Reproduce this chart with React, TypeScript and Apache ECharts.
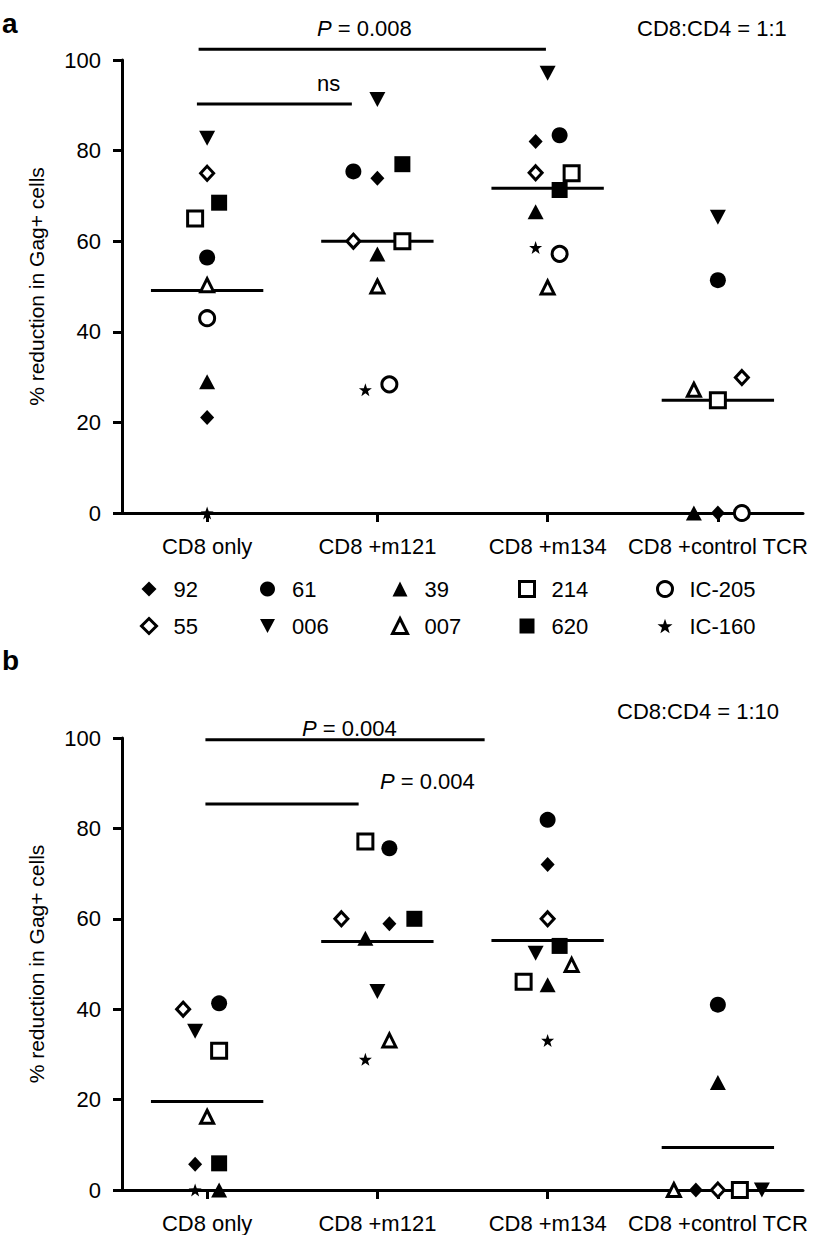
import React, { useEffect, useRef } from 'react';
import * as echarts from 'echarts';

const CATEGORIES = ['CD8 only', 'CD8 +m121', 'CD8 +m134', 'CD8 +control TCR'];
const DONORS = ['92', '55', '61', '006', '39', '007', '214', '620', 'IC-205', 'IC-160'];
const Y_TICKS = [0, 20, 40, 60, 80, 100];

// Panel a (CD8:CD4 = 1:1): [CD8 only, +m121, +m134, +control TCR]
const A_92 = [21.1, 73.9, 82.0, 0];
const A_55 = [75.0, 60.0, 75.1, 29.9];
const A_61 = [56.4, 75.4, 83.4, 51.4];
const A_006 = [82.7, 91.3, 97.1, 65.3];
const A_39 = [29.0, 57.2, 66.5, 0];
const A_007 = [50.3, 50.0, 49.8, 27.2];
const A_214 = [65.0, 60.0, 75.0, 24.9];
const A_620 = [68.5, 77.0, 71.3, null];
const A_IC205 = [43.0, 28.4, 57.2, 0];
const A_IC160 = [0, 27.2, 58.6, null];
const A_MEDIANS = [49.1, 60.0, 71.7, 24.9];

// Panel b (CD8:CD4 = 1:10)
const B_92 = [5.7, 58.9, 72.0, 0];
const B_55 = [40.0, 60.0, 60.0, 0];
const B_61 = [41.3, 75.6, 81.9, 41.0];
const B_006 = [35.1, 43.9, 52.4, 0];
const B_39 = [0, 55.7, 45.4, 23.8];
const B_007 = [16.2, 33.1, 49.8, 0];
const B_214 = [30.8, 77.1, 46.1, 0];
const B_620 = [5.9, 60.0, 54.0, null];
const B_IC205 = [null, null, null, null];
const B_IC160 = [0, 28.9, 33.1, null];
const B_MEDIANS = [19.6, 55.0, 55.2, 9.4];

// comparison bars: category span and level
const A_COMPARISONS = [
  { from: -0.05, to: 1.99, y: 102.4, label: 'P = 0.008' },
  { from: -0.06, to: 0.85, y: 90.3, label: 'ns' },
];
const B_COMPARISONS = [
  { from: -0.01, to: 1.63, y: 99.6, label: 'P = 0.004' },
  { from: -0.01, to: 0.89, y: 85.4, label: 'P = 0.004' },
];

const A_VALUES: Record<string, (number | null)[]> = {
  '92': A_92, '55': A_55, '61': A_61, '006': A_006, '39': A_39,
  '007': A_007, '214': A_214, '620': A_620, 'IC-205': A_IC205, 'IC-160': A_IC160,
};
const B_VALUES: Record<string, (number | null)[]> = {
  '92': B_92, '55': B_55, '61': B_61, '006': B_006, '39': B_39,
  '007': B_007, '214': B_214, '620': B_620, 'IC-205': B_IC205, 'IC-160': B_IC160,
};

// horizontal jitter (px) of each marker, per category
const A_JITTER: Record<string, number[]> = {
  '92': [0, 0, -12, 0], '55': [0, -24, -12, 24], '61': [0, -24, 12, 0], '006': [0, 0, 0, 0],
  '39': [0, 0, -12, -24], '007': [0, 0, 0, -24], '214': [-12, 25, 24, 0], '620': [12, 25, 12, 0],
  'IC-205': [0, 12, 12, 24], 'IC-160': [0, -12, -12, 0],
};
const B_JITTER: Record<string, number[]> = {
  '92': [-12, 12, 0, -22], '55': [-24, -36, 0, 0], '61': [12, 12, 0, 0], '006': [-12, 0, -12, 44],
  '39': [12, -12, 0, 0], '007': [0, 12, 24, -44], '214': [12, -12, -24, 22], '620': [12, 37, 12, 0],
  'IC-205': [0, 0, 0, 0], 'IC-160': [-12, -12, 0, 0],
};

const FONT = '"Liberation Sans", Arial, Helvetica, sans-serif';
const STAR = 'path://M0,-10L2.35,-3.24L9.51,-3.09L3.8,1.24L5.88,8.09L0,4L-5.88,8.09L-3.8,1.24L-9.51,-3.09L-2.35,-3.24Z';
const DOWN_TRI = 'path://M0,0L10,0L5,9.4Z';
const FILLED = { color: '#000', borderColor: '#000', borderWidth: 0, opacity: 1 };
const OPEN = { color: '#fff', borderColor: '#000', borderWidth: 3, opacity: 1 };

const MARKERS: Record<string, { symbol: string; size: number | number[]; style: any }> = {
  '92': { symbol: 'diamond', size: [14, 15], style: FILLED },
  '55': { symbol: 'diamond', size: [13, 14], style: OPEN },
  '61': { symbol: 'circle', size: 16, style: FILLED },
  '006': { symbol: DOWN_TRI, size: [16, 15], style: FILLED },
  '39': { symbol: 'triangle', size: [16, 15], style: FILLED },
  '007': { symbol: 'triangle', size: [13, 13], style: OPEN },
  '214': { symbol: 'rect', size: 15, style: OPEN },
  '620': { symbol: 'rect', size: 16, style: FILLED },
  'IC-205': { symbol: 'circle', size: 15, style: OPEN },
  'IC-160': { symbol: STAR, size: 13, style: FILLED },
};

const LEGEND_COLUMNS = [['92', '55'], ['61', '006'], ['39', '007'], ['214', '620'], ['IC-205', 'IC-160']];
const LEGEND_LEFT = [140, 260, 391, 518, 656];

function panel(idx: number, values: Record<string, (number | null)[]>, jitter: Record<string, number[]>,
  medians: number[], comps: { from: number; to: number; y: number }[]) {
  const catAxis = idx * 2;
  const valAxis = idx * 2 + 1;
  const series: any[] = [];
  medians.forEach((m, i) => {
    series.push({
      type: 'line', xAxisIndex: valAxis, yAxisIndex: idx, silent: true, clip: false,
      symbol: 'none', lineStyle: { color: '#000', width: 3 },
      data: [[i - 0.33, m], [i + 0.33, m]], z: 2,
    });
  });
  comps.forEach((c) => {
    series.push({
      type: 'line', xAxisIndex: valAxis, yAxisIndex: idx, silent: true, clip: false,
      symbol: 'none', lineStyle: { color: '#000', width: 3 },
      data: [[c.from, c.y], [c.to, c.y]], z: 2,
    });
  });
  DONORS.forEach((d) => {
    const mk = MARKERS[d];
    const data: any[] = [];
    values[d].forEach((v, i) => {
      if (v === null) return;
      data.push({ value: [i, v], symbolOffset: [jitter[d][i], 0] });
    });
    series.push({
      type: 'scatter', name: d, xAxisIndex: catAxis, yAxisIndex: idx, clip: false,
      symbol: mk.symbol, symbolSize: mk.size, itemStyle: mk.style, data, z: 3,
      emphasis: { disabled: true },
    });
  });
  return series;
}

export default function App() {
  const ref = useRef<HTMLDivElement>(null);
  useEffect(() => {
    if (!ref.current) return;
    const chart = echarts.init(ref.current, undefined, { renderer: 'svg' });
    const grids = [
      { left: 122, top: 60, width: 681, height: 453 },
      { left: 122, top: 738, width: 681, height: 452 },
    ];
    const xAxes: any[] = [];
    const yAxes: any[] = [];
    grids.forEach((_, g) => {
      xAxes.push({
        type: 'category', gridIndex: g, data: CATEGORIES, boundaryGap: true,
        axisLine: { show: true, onZero: false, lineStyle: { color: '#000', width: 3 } },
        axisTick: { show: true, alignWithLabel: true, length: 9, lineStyle: { color: '#000', width: 3 } },
        axisLabel: { color: '#000', fontSize: 22, fontFamily: FONT, margin: 22, interval: 0 },
        splitLine: { show: false },
      });
      xAxes.push({ type: 'value', gridIndex: g, min: -0.5, max: 3.5, show: false });
      yAxes.push({
        type: 'value', gridIndex: g, min: Y_TICKS[0], max: Y_TICKS[Y_TICKS.length - 1], interval: 20,
        name: '% reduction in Gag+ cells', nameLocation: 'middle', nameGap: 75,
        nameTextStyle: { color: '#000', fontSize: 21, fontFamily: FONT },
        axisLine: { show: true, onZero: false, lineStyle: { color: '#000', width: 3 } },
        axisTick: { show: true, length: 9, lineStyle: { color: '#000', width: 3 } },
        axisLabel: { color: '#000', fontSize: 22, fontFamily: FONT, margin: 21 },
        splitLine: { show: false },
      });
    });
    const legends = LEGEND_COLUMNS.map((col, k) => ({
      orient: 'vertical', left: LEGEND_LEFT[k], top: 578, padding: 0,
      itemWidth: 15, itemHeight: 15, itemGap: 15,
      selectedMode: false,
      textStyle: { color: '#000', fontSize: 22, fontFamily: FONT, padding: [0, 0, 0, 12] },
      data: col.map((n) => ({ name: n, icon: MARKERS[n].symbol, itemStyle: MARKERS[n].style })),
    }));
    const txt = (x: number, y: number, text: string, extra: any = {}) => ({
      type: 'text', x, y, silent: true,
      style: {
        text, fill: '#000', fontSize: 22, fontFamily: FONT, verticalAlign: 'middle', align: 'left',
        rich: { i: { fontStyle: 'italic', fontSize: 22, fontFamily: FONT, fill: '#000' } },
        ...extra,
      },
    });
    chart.setOption({
      animation: false,
      backgroundColor: '#fff',
      grid: grids,
      xAxis: xAxes,
      yAxis: yAxes,
      legend: legends,
      series: [
        ...panel(0, A_VALUES, A_JITTER, A_MEDIANS, A_COMPARISONS),
        ...panel(1, B_VALUES, B_JITTER, B_MEDIANS, B_COMPARISONS),
      ],
      graphic: [
        txt(2, 23, 'a', { fontWeight: 'bold', fontSize: 28 }),
        txt(2, 660, 'b', { fontWeight: 'bold', fontSize: 28 }),
        txt(317, 28, '{i|P} = 0.008'),
        txt(317, 83, 'ns'),
        txt(637, 28, 'CD8:CD4 = 1:1'),
        txt(302, 728, '{i|P} = 0.004'),
        txt(380, 781, '{i|P} = 0.004'),
        txt(617, 711, 'CD8:CD4 = 1:10'),
      ],
    });
    return () => chart.dispose();
  }, []);
  return <div ref={ref} style={{ position: 'absolute', left: 0, top: 0, width: 822, height: 1235 }} />;
}
